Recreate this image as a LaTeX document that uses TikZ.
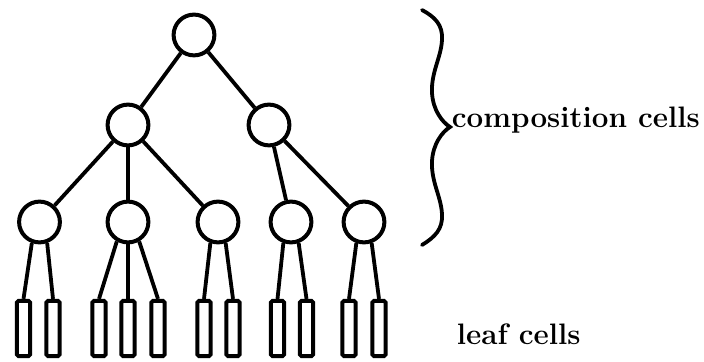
\documentclass[tikz,border=0pt]{standalone}

\begin{document}
\begin{tikzpicture}[x=0.5pt, y=0.5pt, line width=1.9pt, node distance=53.25pt,
                    main node/.style={circle,draw,line width=2pt,minimum size=20.4pt,inner sep=0pt},
                    leaf node/.style={rectangle,draw,line width=2pt,rounded corners=0.8pt,minimum width=6.6pt,minimum height=27.6pt,inner sep=0pt},
                    label text/.style={font=\fontsize{14.8}{17}\selectfont\bfseries,inner sep=0pt}]

	\useasboundingbox (0,0) rectangle (704,362);

	\node[main node] (1) at (194,327) {};

	\node[main node] (2) at (128,237) {};
	\node[main node] (3) at (269,237) {};

	\node[main node] (4) at (39.5,140) {};
	\node[main node] (5) at (128,140) {};
	\node[main node] (6) at (218,140) {};
	\node[main node] (7) at (291,140) {};
	\node[main node] (8) at (364,140) {};

	\node[leaf node] (9) [below of=4, xshift=-8pt]{};
	\node[leaf node] (10) [below of=4, xshift=6.75pt]{};

	\node[leaf node] (11) [below of=5, xshift=-14.5pt]{};
	\node[leaf node] (12) [below of=5]{};
	\node[leaf node] (13) [below of=5, xshift=15pt]{};

	\node[leaf node] (14) [below of=6, xshift=-7pt]{};
	\node[leaf node] (15) [below of=6, xshift=7.5pt]{};

	\node[leaf node] (16) [below of=7, xshift=-6.75pt]{};
	\node[leaf node] (17) [below of=7, xshift=7.75pt]{};

	\node[leaf node] (18) [below of=8, xshift=-7.5pt]{};
	\node[leaf node] (19) [below of=8, xshift=7.5pt]{};

	\node[label text, anchor=base west] (20) at (450,234) {composition cells};
	\node[label text, anchor=base west] (21) at (455,17) {leaf cells};

  \path
    (1) edge (2)
        edge (3)

    (2) edge (4)
        edge (5)
        edge (6)

    (3) edge (7)
        edge (8)

    (4.250) edge (9.north)
    (4.290) edge (10.north)

    (5.240) edge (11.north)
    (5.south) edge (12.north)
    (5.300) edge (13.north)

    (6.250) edge (14.north)
    (6.290) edge (15.north)

    (7.250) edge (16.north)
    (7.290) edge (17.north)

    (8.250) edge (18.north)
    (8.290) edge (19.north)
       ;

	% brace next to the composition cells
	\draw[line cap=round] (422,352) .. controls (435,345) and (443,337) .. (442,322)
		.. controls (441,304) and (431,290) .. (432,269)
		.. controls (433,252) and (442,240) .. (450,235)
		.. controls (442,230) and (433,218) .. (432,201)
		.. controls (431,180) and (441,166) .. (442,148)
		.. controls (443,133) and (435,125) .. (422,117);

\end{tikzpicture}
\end{document}
